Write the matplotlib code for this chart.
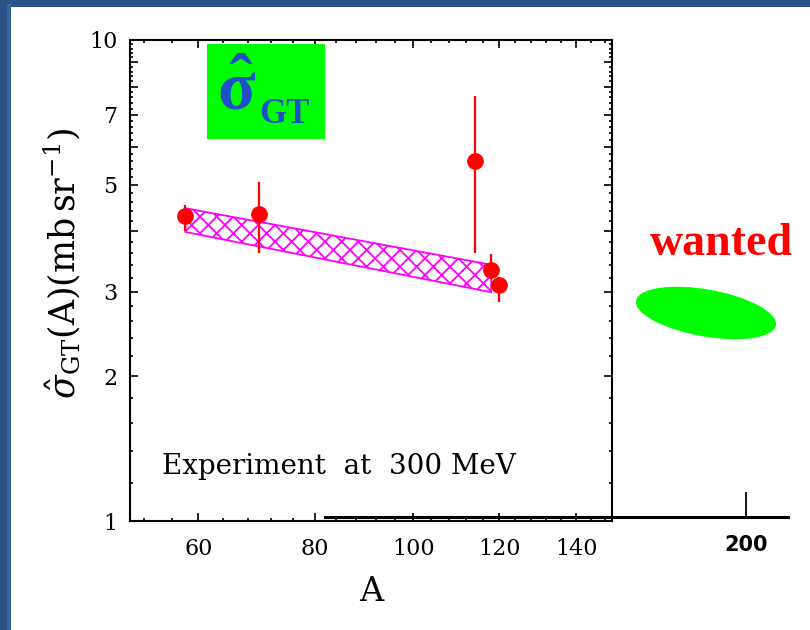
import matplotlib.pyplot as plt
import numpy as np
from matplotlib.patches import Ellipse, Rectangle
from matplotlib.ticker import FixedLocator, FixedFormatter, NullFormatter

plt.rcParams['font.family'] = 'DejaVu Serif'
plt.rcParams['mathtext.fontset'] = 'custom'
plt.rcParams['mathtext.rm'] = 'Liberation Serif'
plt.rcParams['mathtext.it'] = 'Liberation Serif:italic'
plt.rcParams['mathtext.bf'] = 'Liberation Serif:bold'
plt.rcParams['hatch.linewidth'] = 1.3
plt.rcParams['hatch.color'] = '#ff00ff'

# measured GT unit cross sections at 300 MeV
mass = [58, 70, 114, 118, 120]
sigma = [4.30, 4.35, 5.60, 3.32, 3.09]
err_lo = [0.29, 0.74, 1.99, 0.12, 0.24]
err_hi = [0.24, 0.72, 2.05, 0.27, 0.12]

# systematics band
band_mass = [58, 118]
band_lo = [3.99, 2.99]
band_hi = [4.47, 3.41]

xticks = [60, 80, 100, 120, 140]
xminor = list(range(52, 150, 4))
yticks = [1, 2, 3, 4, 5, 6, 7, 8, 9, 10]
ylabels = ['1', '2', '3', '', '5', '', '7', '', '', '10']
yminor = [round(v, 1) for v in np.arange(1.2, 10, 0.2)]

extra_tick = [200]


def fwd(a):
    return np.cbrt(a)


def inv(t):
    return t ** 3


fig = plt.figure(figsize=(8.1, 6.3), dpi=100)

# slide frame
fig.patches.append(Rectangle((0, 0), 11 / 810, 1, transform=fig.transFigure,
                             facecolor='#2a5285', edgecolor='none'))
fig.patches.append(Rectangle((0, 1 - 7 / 630), 1, 7 / 630, transform=fig.transFigure,
                             facecolor='#2a5285', edgecolor='none'))
fig.patches.append(Rectangle((7 / 810, 0), 4 / 810, 1 - 4 / 630, transform=fig.transFigure,
                             facecolor='#36639a', edgecolor='none'))

ax = fig.add_axes([130 / 810, 109 / 630, 482 / 810, 481 / 630])
ax.set_xscale('function', functions=(fwd, inv))
ax.set_yscale('log')
ax.set_xlim(50, 150)
ax.set_ylim(1, 10)

ax.fill_between(band_mass, band_lo, band_hi, facecolor='none', edgecolor='#ff00ff',
                hatch='xx', linewidth=1.3, zorder=2)
ax.errorbar(mass, sigma, yerr=[err_lo, err_hi], fmt='o', color='#ff0000',
            markersize=11, elinewidth=1.6, capsize=0, zorder=3)

ax.xaxis.set_major_locator(FixedLocator(xticks))
ax.xaxis.set_major_formatter(FixedFormatter([str(v) for v in xticks]))
ax.xaxis.set_minor_locator(FixedLocator(xminor))
ax.xaxis.set_minor_formatter(NullFormatter())
ax.yaxis.set_major_locator(FixedLocator(yticks))
ax.yaxis.set_major_formatter(FixedFormatter(ylabels))
ax.yaxis.set_minor_locator(FixedLocator(yminor))
ax.yaxis.set_minor_formatter(NullFormatter())

ax.tick_params(which='both', direction='in', top=True, right=True, labelsize=16, width=1.2)
ax.tick_params(which='major', length=5.5)
ax.tick_params(which='minor', length=2.5)
ax.tick_params(axis='x', pad=12)
ax.tick_params(axis='y', pad=9)
for s in ax.spines.values():
    s.set_linewidth(1.5)

ax.set_xlabel('A', fontsize=24, labelpad=12)
ax.set_ylabel(r'$\hat{\sigma}_{\rm GT}({\rm A})({\rm mb\,sr}^{-1})$', fontsize=25,
              math_fontfamily='dejavuserif')
ax.yaxis.set_label_coords(-0.097, 0.535)

ax.text(0.066, 0.098, 'Experiment  at  300 MeV', transform=ax.transAxes,
        fontsize=20, va='baseline', ha='left')

# green label box
ax.add_patch(Rectangle((0.160, 0.794), 0.245, 0.198, transform=ax.transAxes,
                       facecolor='#00ff00', edgecolor='none', zorder=4))
ax.text(0.180, 0.855, r'$\mathbf{\hat{\sigma}}$', transform=ax.transAxes,
        fontsize=50, color='#1f4fc8', va='baseline', ha='left', zorder=5)
ax.text(0.268, 0.827, 'GT', transform=ax.transAxes, family='Liberation Serif',
        fontweight='bold', fontsize=25, color='#1f4fc8', va='baseline', ha='left', zorder=5)

# extended axis towards heavier nuclei
ax2 = fig.add_axes([325 / 810, 113 / 630, 463 / 810, 0.1])
ax2.patch.set_alpha(0)
for k in ['left', 'right', 'top']:
    ax2.spines[k].set_visible(False)
ax2.spines['bottom'].set_linewidth(2.2)
ax2.set_xlim(0, 220)
ax2.set_xticks(extra_tick)
ax2.set_xticklabels([str(v) for v in extra_tick], family='DejaVu Sans',
                    fontweight='bold', fontsize=15)
ax2.set_yticks([])
ax2.tick_params(axis='x', direction='in', length=18, width=1.3, pad=13)

fig.text(650 / 810, 375 / 630, 'wanted', family='Liberation Serif', fontweight='bold',
         fontsize=33, color='#ff0000', va='baseline', ha='left')
fig.patches.append(Ellipse((7.06, 3.17), 1.42, 0.47, angle=-10,
                           transform=fig.dpi_scale_trans, facecolor='#00ff00',
                           edgecolor='none'))

fig.savefig('out.png', dpi=100)
